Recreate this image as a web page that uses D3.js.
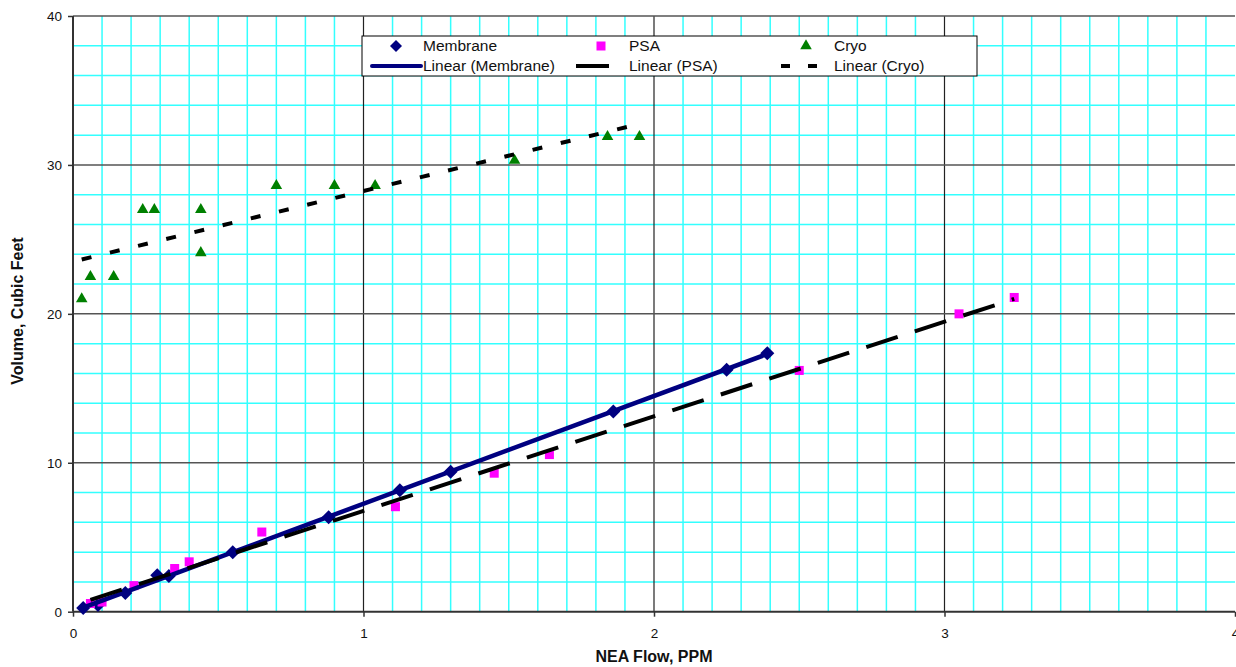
<!DOCTYPE html>
<html>
<head>
<meta charset="utf-8">
<script src="https://cdn.jsdelivr.net/npm/d3@7"></script>
<style>
  html, body { margin: 0; padding: 0; background: #fff; }
  svg { display: block; }
  text { font-family: "Liberation Sans", Arial, sans-serif; }
</style>
</head>
<body>
<svg id="chart" width="1236" height="667"></svg>
<script>
// ---- Data ----
const membraneX = [0.035, 0.086, 0.18, 0.29, 0.33, 0.55, 0.88, 1.125, 1.30, 1.86, 2.25, 2.39];
const membraneY = [0.25, 0.45, 1.25, 2.45, 2.40, 4.0, 6.35, 8.15, 9.4, 13.45, 16.25, 17.35];

const psaX = [0.06, 0.10, 0.21, 0.35, 0.40, 0.65, 1.11, 1.45, 1.64, 2.50, 3.05, 3.24];
const psaY = [0.55, 0.65, 1.75, 2.9, 3.35, 5.35, 7.05, 9.3, 10.55, 16.2, 20.0, 21.1];

const cryoX = [0.03, 0.06, 0.14, 0.24, 0.28, 0.44, 0.44, 0.70, 0.90, 1.04, 1.52, 1.84, 1.95];
const cryoY = [21.0, 22.5, 22.5, 27.0, 27.0, 24.1, 27.0, 28.6, 28.6, 28.6, 30.3, 31.9, 31.9];

const xTicks = [0, 1, 2, 3, 4];
const yTicks = [0, 10, 20, 30, 40];
const xTitle = "NEA Flow, PPM";
const yTitle = "Volume, Cubic Feet";
const legendNames = ["Membrane", "PSA", "Cryo", "Linear (Membrane)", "Linear (PSA)", "Linear (Cryo)"];

// ---- Layout ----
const svg = d3.select("#chart");
const x = d3.scaleLinear().domain([0, 4]).range([73, 1235]);
const y = d3.scaleLinear().domain([0, 40]).range([611.7, 16]);

function fit(xs, ys) {
  const n = xs.length;
  const mx = d3.mean(xs), my = d3.mean(ys);
  let sxy = 0, sxx = 0;
  for (let i = 0; i < n; i++) { sxy += (xs[i]-mx)*(ys[i]-my); sxx += (xs[i]-mx)**2; }
  const b = sxy / sxx, a = my - b * mx;
  const x0 = d3.min(xs), x1 = d3.max(xs);
  return [[x0, a + b*x0], [x1, a + b*x1]];
}

const g = svg.append("g");

// minor grid
const minorX = d3.range(1, 40).filter(i => i % 10 !== 0).map(i => i / 10);
const minorY = d3.range(2, 40, 2).filter(v => v % 10 !== 0);
g.selectAll("line.mx").data(minorX).join("line")
  .attr("x1", d => x(d)).attr("x2", d => x(d))
  .attr("y1", y(40)).attr("y2", y(0))
  .attr("stroke", "#33ffff").attr("stroke-width", 1.5);
g.selectAll("line.my").data(minorY).join("line")
  .attr("x1", x(0)).attr("x2", x(4))
  .attr("y1", d => y(d)).attr("y2", d => y(d))
  .attr("stroke", "#33ffff").attr("stroke-width", 1.5);
// major grid
g.selectAll("line.Mx").data([1, 2, 3]).join("line")
  .attr("x1", d => x(d)).attr("x2", d => x(d))
  .attr("y1", y(40)).attr("y2", y(0))
  .attr("stroke", "#222").attr("stroke-width", 1.2);
g.selectAll("line.My").data([10, 20, 30, 40]).join("line")
  .attr("x1", x(0)).attr("x2", x(4))
  .attr("y1", d => y(d)).attr("y2", d => y(d))
  .attr("stroke", "#555").attr("stroke-width", 1.5);

// axes
const xAxis = d3.axisBottom(x).tickValues(xTicks).tickSize(5).tickPadding(12).tickFormat(d3.format("d"));
const yAxis = d3.axisLeft(y).tickValues(yTicks).tickSize(5).tickPadding(6).tickFormat(d3.format("d"));
const gx = svg.append("g").attr("transform", `translate(0,${y(0)})`).call(xAxis);
const gy = svg.append("g").attr("transform", `translate(${x(0)},0)`).call(yAxis);
[gx, gy].forEach(a => {
  a.select(".domain").attr("stroke", "#333").attr("stroke-width", 2);
  a.selectAll(".tick line").attr("stroke", "#333").attr("stroke-width", 1.5);
  a.selectAll("text").attr("font-size", 13.5).attr("fill", "#111")
    .attr("font-family", "'Liberation Sans', Arial, sans-serif");
});
gx.select(".domain").attr("d", `M${x(0)},0H${x(4)}`);
gy.select(".domain").attr("d", `M0,${y(0)}V${y(40)}`);

// markers
const diamond = "M0,-7L7,0L0,7L-7,0Z";
const tri = d3.symbol().type(d3.symbolTriangle).size(58);
svg.append("g").selectAll("path").data(d3.zip(membraneX, membraneY)).join("path")
  .attr("d", diamond).attr("transform", d => `translate(${x(d[0])},${y(d[1])})`)
  .attr("fill", "#000080");
svg.append("g").selectAll("rect").data(d3.zip(psaX, psaY)).join("rect")
  .attr("x", d => x(d[0]) - 4.5).attr("y", d => y(d[1]) - 4.5)
  .attr("width", 9).attr("height", 9).attr("fill", "#ff00ff");
svg.append("g").selectAll("path").data(d3.zip(cryoX, cryoY)).join("path")
  .attr("d", tri).attr("transform", d => `translate(${x(d[0])},${y(d[1])})`)
  .attr("fill", "#008000");

// trendlines
const line = d3.line().x(d => x(d[0])).y(d => y(d[1]));
svg.append("path").attr("d", line(fit(membraneX, membraneY)))
  .attr("stroke", "#000080").attr("stroke-width", 4.5).attr("fill", "none");
svg.append("path").attr("d", line(fit(psaX, psaY)))
  .attr("stroke", "#000").attr("stroke-width", 4).attr("fill", "none")
  .attr("stroke-dasharray", "33,18");
svg.append("path").attr("d", line(fit(cryoX, cryoY)))
  .attr("stroke", "#000").attr("stroke-width", 4).attr("fill", "none")
  .attr("stroke-dasharray", "10,19");

// legend
const lg = svg.append("g");
lg.append("rect").attr("x", 362).attr("y", 36).attr("width", 615).attr("height", 40)
  .attr("fill", "#fff").attr("stroke", "#000").attr("stroke-width", 1);
const colX = [396, 601, 806];
const txtX = [423, 629, 834];
const r1 = 46, r2 = 66;
lg.append("path").attr("d", "M0,-6L6,0L0,6L-6,0Z").attr("transform", `translate(${colX[0]},${r1})`).attr("fill", "#000080");
lg.append("rect").attr("x", colX[1]-4.5).attr("y", r1-4.5).attr("width", 9).attr("height", 9).attr("fill", "#ff00ff");
lg.append("path").attr("d", tri).attr("transform", `translate(${colX[2]},${r1})`).attr("fill", "#008000");
lg.append("line").attr("x1", 372).attr("x2", 421).attr("y1", r2).attr("y2", r2)
  .attr("stroke", "#000080").attr("stroke-width", 4).attr("stroke-linecap", "round");
lg.append("line").attr("x1", 576).attr("x2", 609).attr("y1", r2).attr("y2", r2)
  .attr("stroke", "#000").attr("stroke-width", 4);
lg.append("line").attr("x1", 781).attr("x2", 826).attr("y1", r2).attr("y2", r2)
  .attr("stroke", "#000").attr("stroke-width", 4).attr("stroke-dasharray", "9,18");
legendNames.forEach((t, i) => {
  lg.append("text").attr("x", txtX[i % 3]).attr("y", i < 3 ? r1 : r2)
    .attr("dy", "0.35em").attr("font-size", 15.5).attr("fill", "#111").text(t);
});

// axis titles
svg.append("text").attr("x", 654).attr("y", 662).attr("text-anchor", "middle")
  .attr("font-size", 16).attr("font-weight", "bold").attr("fill", "#111").text(xTitle);
svg.append("text").attr("transform", "translate(23,311) rotate(-90)").attr("text-anchor", "middle")
  .attr("font-size", 16).attr("font-weight", "bold").attr("fill", "#111").text(yTitle);
</script>
</body>
</html>
